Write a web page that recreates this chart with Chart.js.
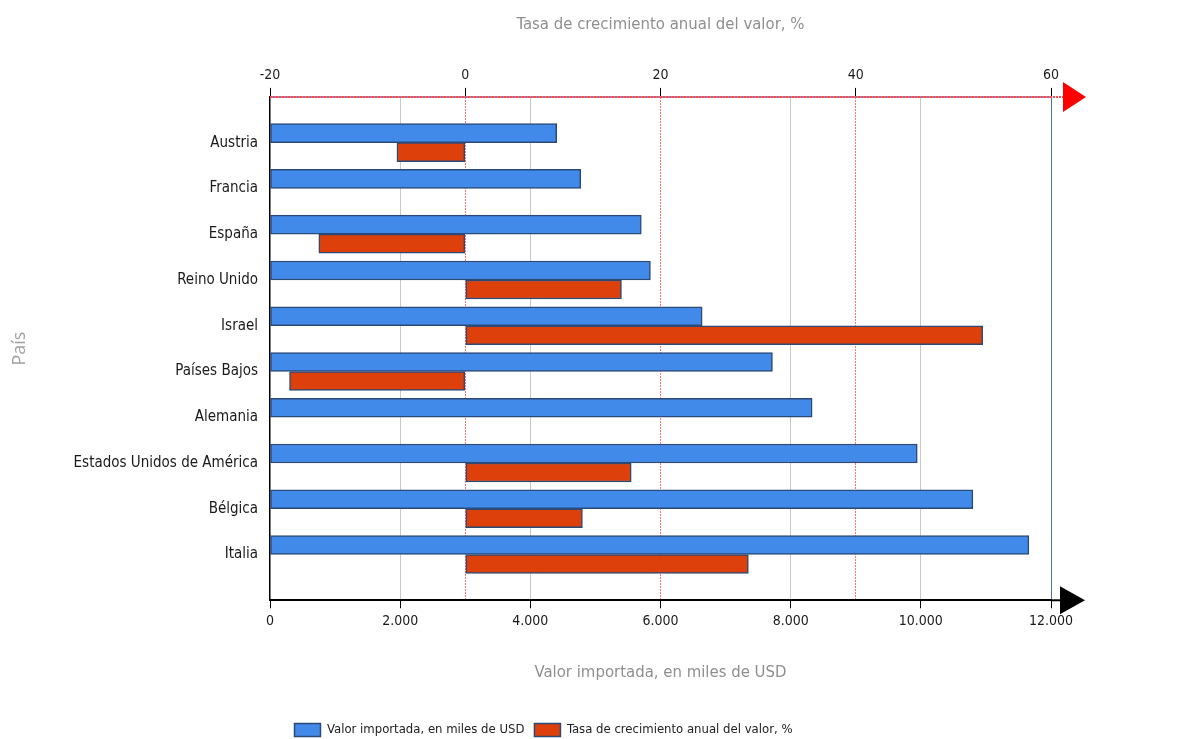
<!DOCTYPE html>
<html>
<head>
<meta charset="utf-8">
<script src="https://cdn.jsdelivr.net/npm/chart.js@4.4.1/dist/chart.umd.min.js"></script>
<style>
  html, body { margin: 0; padding: 0; background: #ffffff; }
  #wrap { width: 1177px; height: 739px; position: relative; }
</style>
</head>
<body>
<div id="wrap"><canvas id="c" width="1177" height="739"></canvas></div>
<script>
// ---- data ----
const countries = ['Austria', 'Francia', 'España', 'Reino Unido', 'Israel', 'Países Bajos', 'Alemania', 'Estados Unidos de América', 'Bélgica', 'Italia'];
const importValues = [4405, 4775, 5705, 5845, 6640, 7720, 8330, 9945, 10800, 11660];
const growthRates = [-7.0, null, -15.0, 16.0, 53.0, -18.0, null, 17.0, 12.0, 29.0];
const seriesNames = ['Valor importada, en miles de USD', 'Tasa de crecimiento anual del valor, %'];
const bottomAxisTitle = 'Valor importada, en miles de USD';
const topAxisTitle = 'Tasa de crecimiento anual del valor, %';
const yAxisTitle = 'País';

// padded category list (one empty slot at each end)
const labels = [''].concat(countries, ['']);
const padData = arr => [null].concat(arr, [null]);

const NARROW = "'Liberation Sans Narrow', 'Arial Narrow', 'DejaVu Sans Condensed', sans-serif";

const fmtThousands = v => String(v).replace(/\B(?=(\d{3})+(?!\d))/g, '.');

const decorPlugin = {
  id: 'decor',
  afterLayout(chart) {
    const lg = chart.legend;
    if (lg) {
      lg.left += 18; lg.right += 18;
      lg.top += 7.5; lg.bottom += 7.5;
    }
  },
  afterDraw(chart) {
    const ctx = chart.ctx;
    const a = chart.chartArea;
    ctx.save();
    // bottom axis extension + black arrow
    ctx.strokeStyle = '#000'; ctx.lineWidth = 2;
    ctx.beginPath(); ctx.moveTo(a.right, a.bottom); ctx.lineTo(a.right + 12, a.bottom); ctx.stroke();
    ctx.fillStyle = '#000';
    ctx.beginPath();
    ctx.moveTo(a.right + 9, a.bottom - 14);
    ctx.lineTo(a.right + 34, a.bottom);
    ctx.lineTo(a.right + 9, a.bottom + 14);
    ctx.closePath(); ctx.fill();
    // top axis line (red dotted over a blue line) + red arrow
    const ty = Math.round(a.top);
    ctx.lineWidth = 2;
    ctx.strokeStyle = '#8090c8';
    ctx.beginPath(); ctx.moveTo(a.left, ty); ctx.lineTo(a.right, ty); ctx.stroke();
    ctx.strokeStyle = '#ff4a4a';
    ctx.setLineDash([2, 1]);
    ctx.beginPath(); ctx.moveTo(a.left, ty); ctx.lineTo(a.right + 12, ty); ctx.stroke();
    ctx.setLineDash([]);
    ctx.fillStyle = '#ff0000';
    ctx.beginPath();
    ctx.moveTo(a.right + 12, a.top - 15);
    ctx.lineTo(a.right + 35, a.top);
    ctx.lineTo(a.right + 12, a.top + 15);
    ctx.closePath(); ctx.fill();
    ctx.restore();
  }
};

new Chart(document.getElementById('c'), {
  type: 'bar',
  data: {
    labels: labels,
    datasets: [
      {
        label: seriesNames[0],
        data: padData(importValues),
        xAxisID: 'x',
        backgroundColor: '#418AEA',
        borderColor: '#2B4A78',
        borderWidth: 1.5,
        borderSkipped: false,
        barThickness: 19
      },
      {
        label: seriesNames[1],
        data: padData(growthRates),
        xAxisID: 'x2',
        backgroundColor: '#DE400B',
        borderColor: '#2B4A78',
        borderWidth: 1.5,
        borderSkipped: false,
        barThickness: 19
      }
    ]
  },
  options: {
    indexAxis: 'y',
    responsive: false,
    animation: false,
    devicePixelRatio: 1,
    layout: { padding: { left: 0, right: 126, top: 0, bottom: 0 } },
    plugins: {
      tooltip: { enabled: false },
      legend: {
        position: 'bottom',
        labels: {
          boxWidth: 26,
          boxHeight: 13,
          padding: 10,
          color: '#222',
          font: { family: NARROW, size: 13 }
        }
      }
    },
    scales: {
      y: {
        type: 'category',
        offset: false,
        grid: { display: false },
        border: { display: true, color: '#000', width: 1.5 },
        ticks: {
          autoSkip: false,
          padding: 4,
          color: '#1a1a1a',
          font: { family: NARROW, size: 15 }
        },
        title: {
          display: true,
          text: yAxisTitle,
          color: '#a0a0a0',
          padding: { top: 9, bottom: 0 },
          font: { family: "'Open Sans', 'DejaVu Sans', sans-serif", size: 18 }
        },
        afterFit(scale) { scale.width = 270; }
      },
      x: {
        type: 'linear',
        position: 'bottom',
        min: 0,
        max: 12000,
        grid: {
          color: c => {
            const v = c.tick ? c.tick.value : null;
            if (v === 12000) return '#56709a';
            if (v === 0 || v === 6000) return 'rgba(0,0,0,0)';
            return '#c8c8c8';
          },
          lineWidth: 1,
          tickColor: '#000',
          tickLength: 8
        },
        border: { display: true, color: '#000', width: 2 },
        ticks: {
          stepSize: 2000,
          padding: 5,
          color: '#1a1a1a',
          font: { family: NARROW, size: 14 },
          callback: v => fmtThousands(v)
        },
        title: {
          display: true,
          text: bottomAxisTitle,
          color: '#8f8f8f',
          padding: { top: 28, bottom: 23 },
          font: { family: NARROW, size: 16.6 }
        }
      },
      x2: {
        type: 'linear',
        position: 'top',
        min: -20,
        max: 60,
        grid: {
          color: c => {
            const v = c.tick ? c.tick.value : null;
            if (v === -20 || v === 60) return 'rgba(0,0,0,0)';
            return 'rgba(255,40,40,0.65)';
          },
          lineWidth: 1,
          tickColor: '#000',
          tickLength: 9,
          tickBorderDash: []
        },
        border: { display: false, dash: [2, 1] },
        ticks: {
          stepSize: 20,
          padding: 4.6,
          color: '#1a1a1a',
          font: { family: NARROW, size: 14 }
        },
        title: {
          display: true,
          text: topAxisTitle,
          color: '#8f8f8f',
          padding: { top: 15, bottom: 27 },
          font: { family: NARROW, size: 16.6 }
        }
      }
    }
  },
  plugins: [decorPlugin]
});
</script>
</body>
</html>
